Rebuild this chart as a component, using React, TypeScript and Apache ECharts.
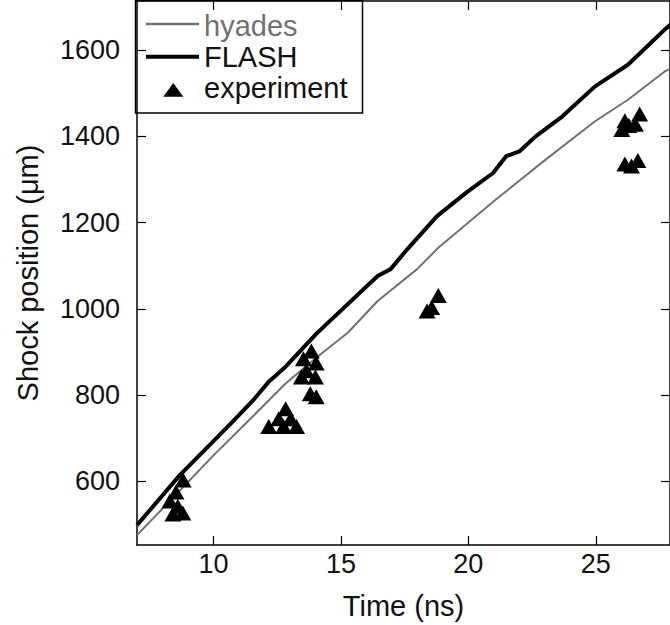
import React, { useEffect, useRef } from "react";
import * as echarts from "echarts";

// ---- data ----
const flashTime = [7.0, 8.68, 10.62, 11.59, 12.17, 12.82, 14.05, 16.44, 16.95, 17.6, 18.77, 19.93, 20.97, 21.48, 22.0, 22.64, 23.68, 24.97, 26.26, 27.69, 27.95];
const flashPos = [498, 614, 730, 790, 831, 865, 943, 1076, 1092, 1138, 1215, 1270, 1315, 1354, 1365, 1400, 1446, 1516, 1566, 1647, 1660];

const hyadesTime = [7.0, 8.5, 10.0, 11.59, 12.82, 13.98, 15.28, 16.44, 17.99, 18.83, 21.09, 23.03, 24.97, 26.26, 27.69, 27.95];
const hyadesPos = [475, 567, 660, 753, 826, 884, 945, 1018, 1092, 1142, 1254, 1346, 1435, 1485, 1550, 1558];

const expTime = [8.81, 8.53, 8.29, 8.6, 8.8, 8.41, 12.17, 12.56, 12.75, 12.83, 13.03, 13.26, 13.45, 13.53, 13.65, 13.84, 14.0, 14.03, 13.8, 14.03, 18.38, 18.56, 18.82, 26.02, 26.14, 26.3, 26.55, 26.72, 26.14, 26.4, 26.65];
const expPos = [603, 575, 554, 542, 526, 524, 727, 745, 727, 768, 745, 727, 842, 884, 856, 902, 842, 874, 803, 796, 995, 1003, 1031, 1416, 1436, 1425, 1428, 1452, 1336, 1331, 1344];

const xTicks = [10, 15, 20, 25];
const yTicks = [600, 800, 1000, 1200, 1400, 1600];

const seriesNames = ["hyades", "FLASH", "experiment"];
const xTitle = "Time (ns)";
const yTitle = "Shock position (μm)";

const X_MIN = 7;
const X_MAX = 27.91;
const Y_MIN = 452;
const Y_MAX = 1714;

const FONT = "'Liberation Sans', Arial, Helvetica, sans-serif";
const GRAY = "#707070";

export default function App() {
  const ref = useRef<HTMLDivElement>(null);

  useEffect(() => {
    if (!ref.current) return;
    const chart = echarts.init(ref.current, undefined, { renderer: "svg" });

    const zip = (a: number[], b: number[]) => a.map((v, i) => [v, b[i]]);
    const plain = (v: number) => String(v);

    const axisCommon = {
      axisLine: { show: true, onZero: false, lineStyle: { color: "#000", width: 1.5 } },
      axisTick: { show: true, inside: true, length: 9, lineStyle: { color: "#000", width: 1.2 } },
      splitLine: { show: false },
    };

    chart.setOption({
      animation: false,
      backgroundColor: "#fff",
      textStyle: { fontFamily: FONT },
      grid: { left: 137, top: 1, width: 539, height: 546, containLabel: false },
      xAxis: [
        {
          type: "value",
          min: X_MIN,
          max: X_MAX,
          position: "bottom",
          ...axisCommon,
          axisTick: { ...axisCommon.axisTick, customValues: xTicks },
          axisLabel: {
            customValues: xTicks,
            formatter: plain,
            color: "#111",
            fontSize: 27,
            fontFamily: FONT,
            margin: 5,
          },
          name: xTitle,
          nameLocation: "middle",
          nameGap: 46,
          nameTextStyle: { color: "#111", fontSize: 29, fontFamily: FONT },
        },
        {
          type: "value",
          min: X_MIN,
          max: X_MAX,
          position: "top",
          ...axisCommon,
          axisTick: { ...axisCommon.axisTick, customValues: xTicks },
          axisLabel: { show: false },
        },
      ],
      yAxis: [
        {
          type: "value",
          min: Y_MIN,
          max: Y_MAX,
          position: "left",
          ...axisCommon,
          axisTick: { ...axisCommon.axisTick, customValues: yTicks },
          axisLabel: {
            customValues: yTicks,
            formatter: plain,
            color: "#111",
            fontSize: 27,
            fontFamily: FONT,
            margin: 17,
            padding: [0, 0, 9, 0],
          },
          name: yTitle,
          nameLocation: "middle",
          nameGap: 95,
          nameTextStyle: { color: "#111", fontSize: 29, fontFamily: FONT },
        },
        {
          type: "value",
          min: Y_MIN,
          max: Y_MAX,
          position: "right",
          ...axisCommon,
          axisTick: { ...axisCommon.axisTick, customValues: yTicks },
          axisLabel: { show: false },
        },
      ],
      series: [
        {
          name: seriesNames[0],
          type: "line",
          data: zip(hyadesTime, hyadesPos),
          showSymbol: false,
          symbol: "none",
          lineStyle: { color: GRAY, width: 2 },
          itemStyle: { color: GRAY },
          z: 2,
        },
        {
          name: seriesNames[1],
          type: "line",
          data: zip(flashTime, flashPos),
          showSymbol: false,
          symbol: "none",
          lineStyle: { color: "#000", width: 4 },
          itemStyle: { color: "#000" },
          z: 3,
        },
        {
          name: seriesNames[2],
          type: "scatter",
          data: zip(expTime, expPos),
          symbol: "triangle",
          symbolSize: [17, 15],
          itemStyle: { color: "#000", opacity: 1 },
          z: 4,
        },
      ],
      graphic: [
        {
          type: "group",
          z: 100,
          children: [
            {
              type: "rect",
              shape: { x: 135.5, y: 0.5, width: 227, height: 112.5 },
              style: { fill: "#fff", stroke: "#000", lineWidth: 1.5 },
            },
            {
              type: "line",
              shape: { x1: 146, y1: 24, x2: 199, y2: 24 },
              style: { stroke: GRAY, lineWidth: 2.5 },
            },
            {
              type: "text",
              x: 204,
              y: 26,
              style: { text: seriesNames[0], fill: GRAY, font: `29px ${FONT}`, verticalAlign: "middle", align: "left" },
            },
            {
              type: "line",
              shape: { x1: 146, y1: 56.7, x2: 199, y2: 56.7 },
              style: { stroke: "#000", lineWidth: 4 },
            },
            {
              type: "text",
              x: 204,
              y: 56.5,
              style: { text: seriesNames[1], fill: "#111", font: `29px ${FONT}`, verticalAlign: "middle", align: "left" },
            },
            {
              type: "polygon",
              shape: { points: [[173.3, 83], [163.3, 96.7], [183.3, 96.7]] },
              style: { fill: "#000" },
            },
            {
              type: "text",
              x: 204,
              y: 88,
              style: { text: seriesNames[2], fill: "#111", font: `29px ${FONT}`, verticalAlign: "middle", align: "left" },
            },
          ],
        },
      ],
    });

    return () => chart.dispose();
  }, []);

  return (
    <div
      ref={ref}
      style={{ position: "fixed", left: 0, top: 0, width: 670, height: 625, background: "#fff" }}
    />
  );
}
